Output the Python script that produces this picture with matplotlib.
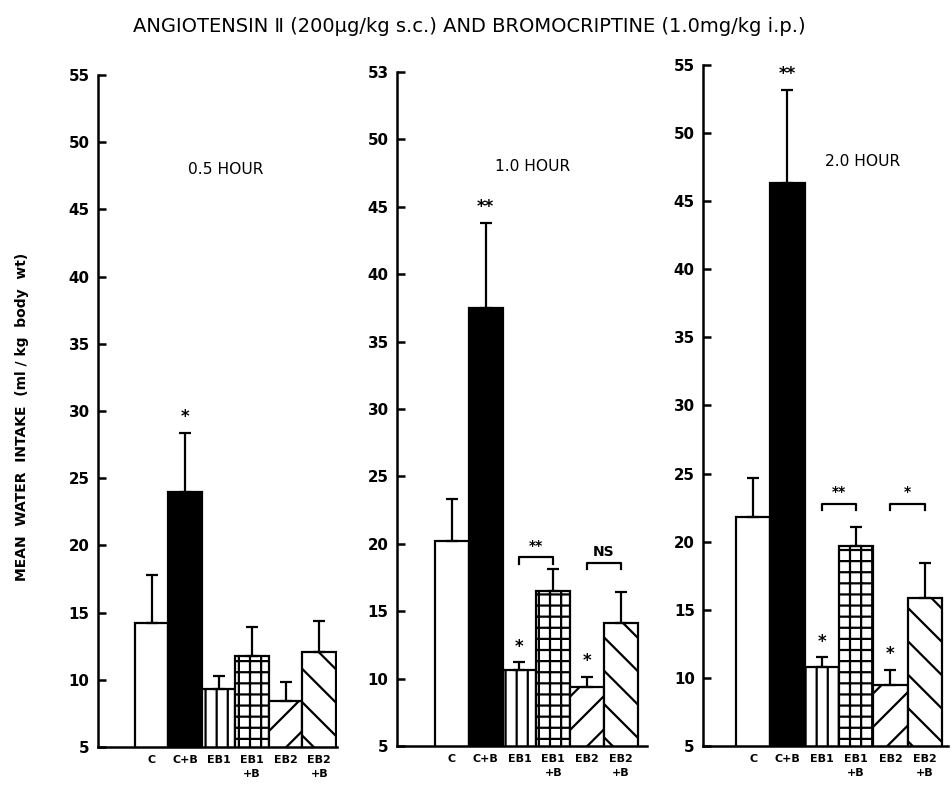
import numpy as np
import matplotlib
matplotlib.use('Agg')
import matplotlib.pyplot as plt

# groups and panel titles
groups = ['C', 'C+B', 'EB1', 'EB1\n+B', 'EB2', 'EB2\n+B']
hours = ['0.5 HOUR', '1.0 HOUR', '2.0 HOUR']

# mean water intake (ml/kg body wt) and upper error (SEM)
mean_05 = [14.2, 24.0, 9.3, 11.8, 8.4, 12.1]
sem_05 = [3.6, 4.4, 1.0, 2.1, 1.4, 2.3]
mean_10 = [20.2, 37.5, 10.6, 16.5, 9.4, 14.1]
sem_10 = [3.1, 6.3, 0.6, 1.6, 0.7, 2.3]
mean_20 = [21.8, 46.3, 10.8, 19.7, 9.5, 15.9]
sem_20 = [2.9, 6.9, 0.7, 1.4, 1.1, 2.5]

# significance marks over single bars
stars_05 = ['', '*', '', '', '', '']
stars_10 = ['', '**', '*', '', '*', '']
stars_20 = ['', '**', '*', '', '*', '']

# brackets: (bar a, bar b, label, height)
brackets_05 = []
brackets_10 = [(2, 3, '**', 19.0), (4, 5, 'NS', 18.6)]
brackets_20 = [(2, 3, '**', 22.8), (4, 5, '*', 22.8)]

yticks = [5, 10, 15, 20, 25, 30, 35, 40, 45, 50, 55]
ylabels = [str(v) for v in yticks]
ylabels_mid = ylabels[:-1] + ['53']  # top label printed as 53 in the middle panel

title = 'ANGIOTENSIN \u2161 (200\u03bcg/kg s.c.) AND BROMOCRIPTINE (1.0mg/kg i.p.)'
ytitle = 'MEAN  WATER  INTAKE  (ml / kg  body  wt)'

fills = ['white', 'black', 'white', 'white', 'white', 'white']
hatches = ['', '', '|||', '+++', '//', '\\\\']

plt.rcParams['hatch.linewidth'] = 0.8

# dpi 200 so the hatch spacing comes out as wide as in the print
fig = plt.figure(figsize=(4.76, 3.925), dpi=200)

panels = [
    ([0.1029, 0.0484, 0.2511, 0.856], (-1.6, 5.53), mean_05, sem_05, stars_05, brackets_05, ylabels, (0.535, 0.86)),
    ([0.4170, 0.0497, 0.2626, 0.8586], (-1.62, 5.77), mean_10, sem_10, stars_10, brackets_10, ylabels_mid, (0.544, 0.86)),
    ([0.7385, 0.0497, 0.2574, 0.8675], (-1.46, 5.68), mean_20, sem_20, stars_20, brackets_20, ylabels, (0.65, 0.858)),
]

for (rect, xlim, means, sems, stars, brackets, ylab, hpos), hour in zip(panels, hours):
    ax = fig.add_axes(rect)
    x = np.arange(len(groups))
    means = np.array(means)
    sems = np.array(sems)
    bars = ax.bar(x, means, width=1.0, color=fills, edgecolor='black', linewidth=0.8, zorder=2)
    for b, h in zip(bars, hatches):
        b.set_hatch(h)
    ax.errorbar(x, means, yerr=[np.zeros(len(x)), sems], fmt='none', ecolor='black',
                elinewidth=0.8, capsize=2.2, capthick=0.8, zorder=3)
    for xi, top, s in zip(x, means + sems, stars):
        if s:
            ax.text(xi, top + 0.5, s, ha='center', va='bottom', fontsize=6, fontweight='bold')
    for a, b, lab, h in brackets:
        ax.plot([a, a, b, b], [h - 0.5, h, h, h - 0.5], color='black', lw=0.8)
        ax.text((a + b) / 2, h + 0.3, lab, ha='center', va='bottom', fontsize=5, fontweight='bold')

    ax.set_ylim(5, 55)
    ax.set_xlim(*xlim)
    ax.set_yticks(yticks)
    ax.set_yticklabels(ylab, fontsize=5.4, fontweight='bold')
    ax.set_xticks(x)
    ax.set_xticklabels(groups, fontsize=4, fontweight='bold')
    for lbl in ax.get_xticklabels():
        lbl.set_linespacing(1.4)
    ax.tick_params(axis='y', direction='in', length=3, width=0.9, pad=3)
    ax.tick_params(axis='x', length=0, pad=3)
    for side in ['top', 'right']:
        ax.spines[side].set_visible(False)
    for side in ['left', 'bottom']:
        ax.spines[side].set_linewidth(0.9)
    ax.text(hpos[0], hpos[1], hour, transform=ax.transAxes, ha='center', va='center', fontsize=5.6)

fig.text(0.493, 0.966, title, ha='center', va='center', fontsize=7)
fig.text(0.023, 0.469, ytitle, rotation=90, ha='center', va='center', fontsize=5, fontweight='bold')

fig.savefig('out.png', dpi=200)
